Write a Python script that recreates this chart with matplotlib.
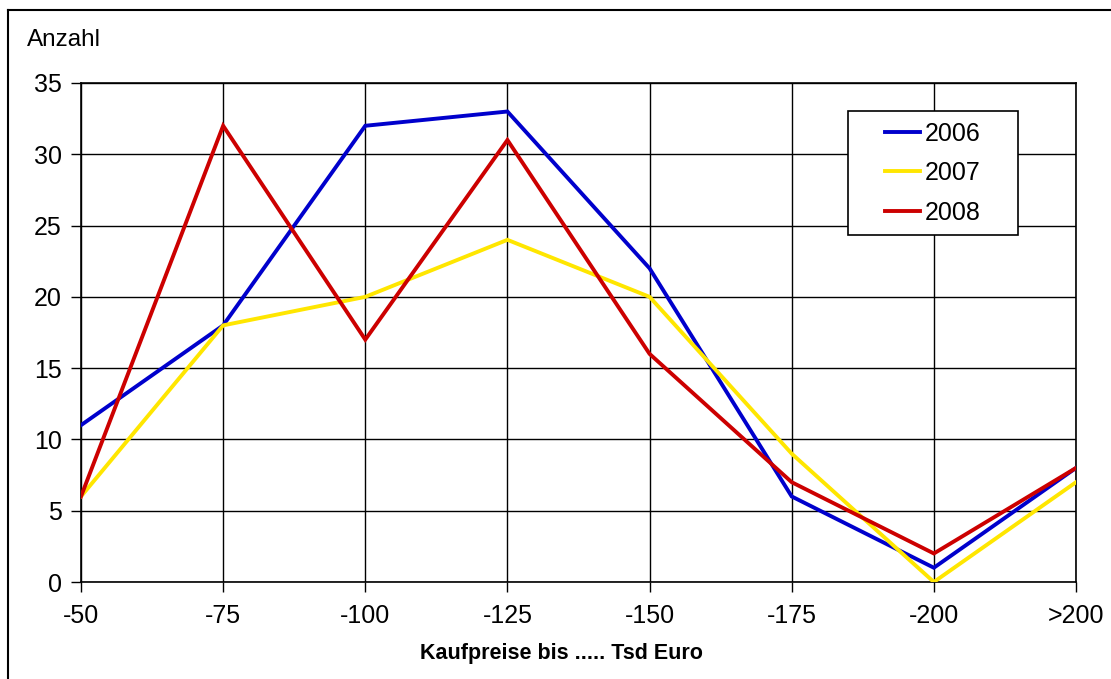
import matplotlib.pyplot as plt
from matplotlib.lines import Line2D
from matplotlib.patches import Rectangle

plt.rcParams['font.family'] = ['Liberation Sans', 'DejaVu Sans']

# Anzahl der Kaufverträge je Preisklasse
categories = ["-50", "-75", "-100", "-125", "-150", "-175", "-200", ">200"]
counts_2006 = [11, 18, 32, 33, 22, 6, 1, 8]
counts_2007 = [6, 18, 20, 24, 20, 9, 0, 7]
counts_2008 = [6, 32, 17, 31, 16, 7, 2, 8]

series = [("2006", counts_2006, "#0000cc"),
          ("2007", counts_2007, "#ffe600"),
          ("2008", counts_2008, "#cc0000")]

W, H = 1111, 679
fig = plt.figure(figsize=(W / 100, H / 100), dpi=100)
ax = fig.add_axes([81 / W, 1 - 582 / H, 995 / W, 499 / H])

x = range(len(categories))
for label, values, color in series:
    ax.plot(x, values, color=color, linewidth=2.8, label=label,
            solid_joinstyle='miter', zorder=3)

ax.set_xlim(0, len(categories) - 1)
ax.set_ylim(0, 35)
ax.set_xticks(list(x))
ax.set_xticklabels(categories)
ax.set_yticks(range(0, 36, 5))
ax.grid(True, color='black', linewidth=1.0)
ax.set_axisbelow(True)
for spine in ax.spines.values():
    spine.set_linewidth(1.2)
ax.tick_params(axis='both', labelsize=18, length=7, width=1.0,
               color='black', direction='out')
ax.tick_params(axis='x', pad=9)
ax.tick_params(axis='y', pad=7)

fig.text(561 / W, 1 - 659 / H, "Kaufpreise bis ..... Tsd Euro",
         fontsize=15.5, fontweight='bold', ha='center', va='baseline')
fig.text(27 / W, 1 - 46 / H, "Anzahl", fontsize=17.5, va='baseline')

# Legendenrahmen
box = Rectangle((0.771, 0.695), 0.1707, 0.249, transform=ax.transAxes,
                facecolor='white', edgecolor='black', linewidth=1.2,
                zorder=4)
ax.add_patch(box)
leg = ax.legend(loc='center', bbox_to_anchor=(0.8563, 0.8195),
                fontsize=18, frameon=False, handlelength=1.4,
                handletextpad=0.2, labelspacing=0.62, borderpad=0,
                borderaxespad=0)
leg.set_zorder(5)

# äußerer Rahmen (nur links und oben sichtbar)
fig.add_artist(Line2D([8 / W, 8 / W], [0, 1 - 9.5 / H],
                      transform=fig.transFigure, color='black', linewidth=1.5))
fig.add_artist(Line2D([8 / W, 1], [1 - 9.5 / H, 1 - 9.5 / H],
                      transform=fig.transFigure, color='black', linewidth=1.5))

fig.savefig("out.png", dpi=100)
